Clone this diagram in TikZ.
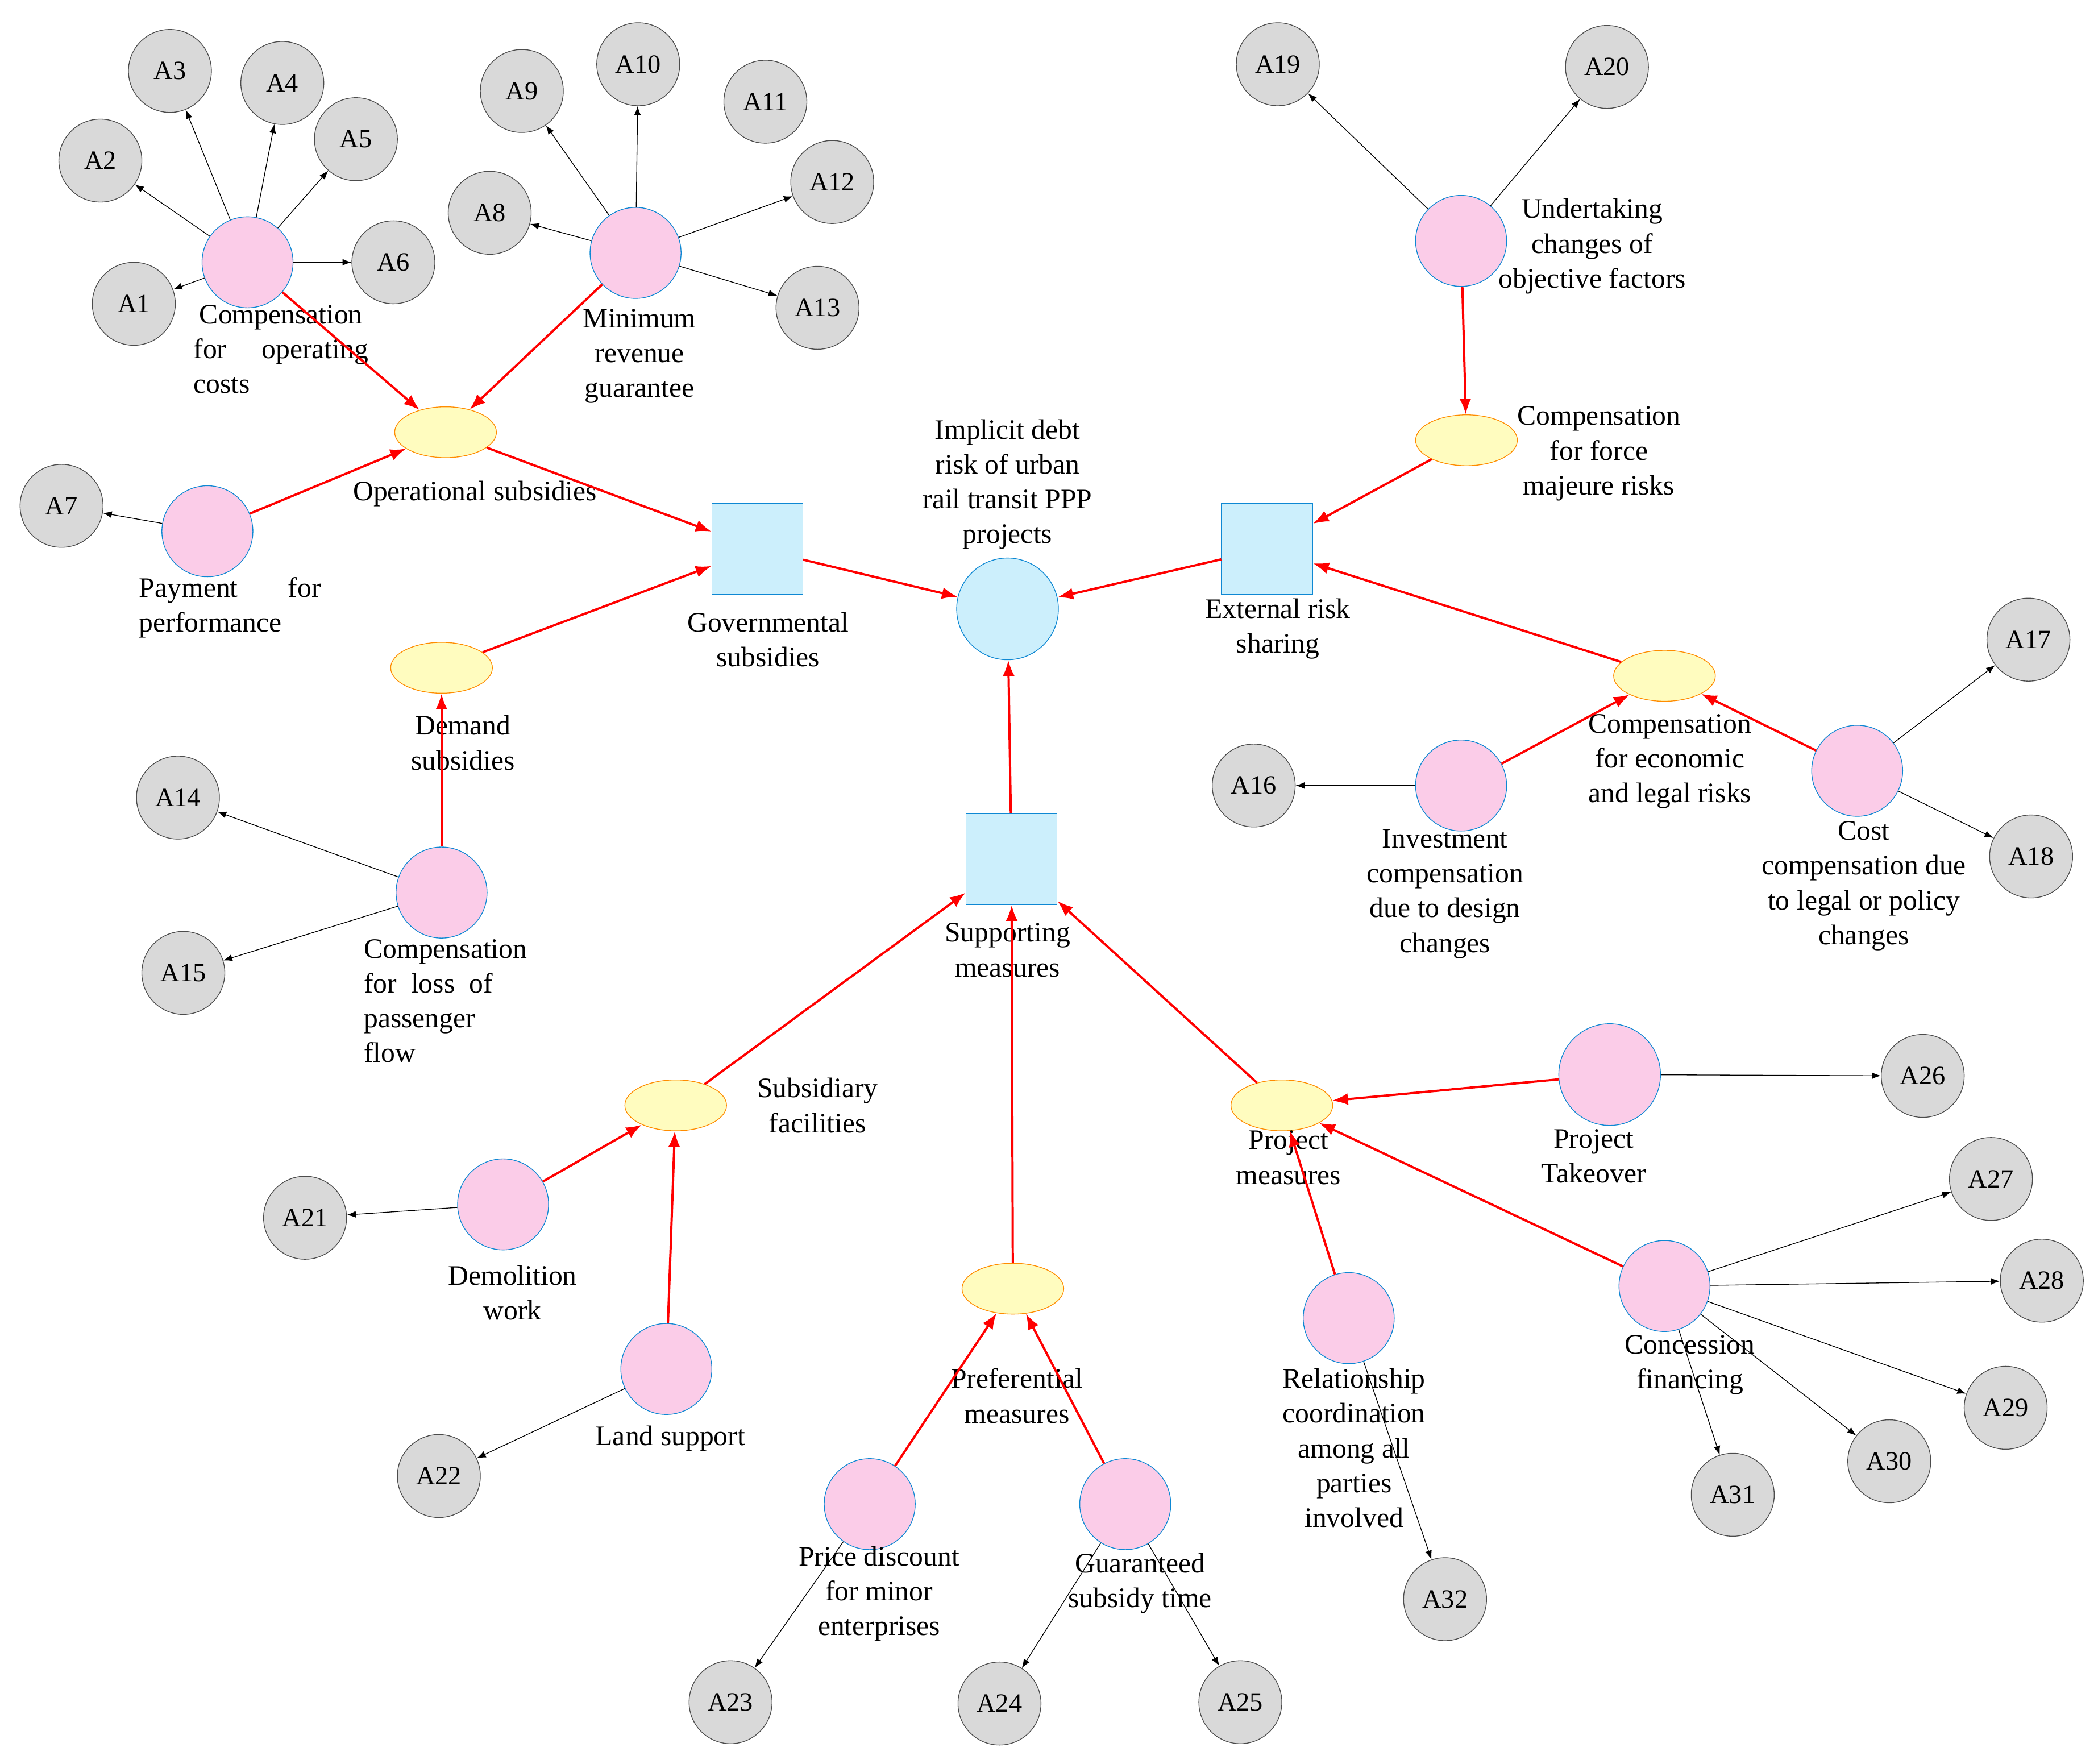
\documentclass[tikz,border=0pt]{standalone}
\usepackage{fontspec}
\setmainfont{Liberation Serif}
\usetikzlibrary{arrows.meta, positioning, shapes.geometric}

\begin{document}
\begin{tikzpicture}[x=0.025cm, y=-0.025cm,
  every node/.style={font=\fontsize{15}{18.5}\selectfont},
  root/.style={draw=cyan!70!blue, fill=cyan!20, circle, minimum size=1.9cm},
  group/.style={draw=cyan!70!blue, fill=cyan!20, minimum size=1.7cm},
  sub/.style={draw=orange!90!yellow, fill=yellow!25, ellipse, minimum width=1.9cm, minimum height=0.95cm},
  item/.style={draw=cyan!70!blue, fill=magenta!20, circle, minimum size=1.7cm},
  leaf/.style={draw=black!70, fill=black!15, circle, minimum size=1.55cm, font=\fontsize{14}{16}\selectfont},
  lbl/.style={align=center},
  red arrow/.style={-Latex, red, line width=1.2pt},
  leaf arrow/.style={-Latex, black, thin}
]
\useasboundingbox (0,0) rectangle (1568,1318);

% ROOT AND GROUPS
\node[root] (risk) at (753,455) {};
\node[lbl] at (753,362) {Implicit debt\\risk of urban\\rail transit PPP\\projects};
\node[group] (gov) at (566,410) {};
\node[lbl] at (574,478) {Governmental\\subsidies};
\node[group] (ext) at (947,410) {};
\node[lbl] at (955,470) {External risk\\sharing};
\node[group] (sup) at (756,642) {};
\node[lbl] at (753,710) {Supporting\\measures};

% SUBGROUPS
\node[sub] (oper) at (333,323) {};
\node[lbl] at (355,369) {Operational subsidies};
\node[sub] (dem) at (330,499) {};
\node[lbl] at (346,555) {Demand\\subsidies};
\node[sub] (force) at (1096,329) {};
\node[lbl] at (1195,339) {Compensation\\for force\\majeure risks};
\node[sub] (econ) at (1244,505) {};
\node[lbl] at (1248,569) {Compensation\\for economic\\and legal risks};
\node[sub] (facil) at (505,826) {};
\node[lbl] at (611,826) {Subsidiary\\facilities};
\node[sub] (pref) at (757,963) {};
\node[lbl] at (760,1043) {Preferential\\measures};
\node[sub] (proj) at (958,826) {};
\node[lbl] at (963,865) {Project\\measures};

% ITEMS
\node[item] (opcost) at (185,196) {};
\node[lbl] at (210,261) {Compensation\\for \quad operating\\costs\hfill\null};
\node[item] (minrev) at (475,189) {};
\node[lbl] at (478,266) {Minimum\\revenue\\guarantee};
\node[item] (pay) at (155,397) {};
\node[lbl] at (172,454) {Payment \quad\; for\\performance\hfill\null};
\node[item] (undert) at (1092,180) {};
\node[lbl] at (1190,184) {Undertaking\\changes of\\objective factors};
\node[item] (loss) at (330,667) {};
\node[lbl, align=left] at (333,748) {Compensation\\for \ loss \ of\\passenger\\flow};
\node[item] (invest) at (1092,587) {};
\node[lbl] at (1080,668) {Investment\\compensation\\due to design\\changes};
\node[item] (costc) at (1388,576) {};
\node[lbl] at (1393,662) {Cost\\compensation due\\to legal or policy\\changes};
\node[item] (demol) at (376,900) {};
\node[lbl] at (383,966) {Demolition\\work};
\node[item] (land) at (498,1023) {};
\node[lbl] at (501,1075) {Land support};
\node[item] (price) at (650,1124) {};
\node[lbl] at (657,1191) {Price discount\\for minor\\enterprises};
\node[item] (guar) at (841,1124) {};
\node[lbl] at (852,1183) {Guaranteed\\subsidy time};
\node[item] (relat) at (1008,985) {};
\node[lbl] at (1012,1082) {Relationship\\coordination\\among all\\parties\\involved};
\node[item, minimum size=1.9cm] (takeov) at (1203,803) {};
\node[lbl] at (1191,864) {Project\\Takeover};
\node[item] (conc) at (1244,961) {};
\node[lbl] at (1263,1020) {Concession\\financing};

% LEAVES
\foreach \n/\x/\y in {1/100/227, 2/75/120, 3/127/53, 4/211/62, 5/266/104, 6/294/196,
  7/46/378, 8/366/159, 9/390/68, 10/477/48, 11/572/76, 12/622/136, 13/611/230,
  14/133/596, 15/137/727, 16/937/587, 17/1516/478, 18/1518/640, 19/955/48,
  20/1201/50, 21/228/910, 22/328/1103, 23/546/1272, 24/747/1273, 25/927/1272,
  26/1437/804, 27/1488/881, 28/1526/957, 29/1499/1052, 30/1412/1092,
  31/1295/1117, 32/1080/1195}
  \node[leaf] (a\n) at (\x,\y) {A\n};

% RED CONNECTIONS
\foreach \s/\t in {opcost/oper, minrev/oper, pay/oper, oper/gov, dem/gov, loss/dem,
  gov/risk, ext/risk, sup/risk, undert/force, force/ext, econ/ext, invest/econ,
  costc/econ, facil/sup, pref/sup, proj/sup, demol/facil, land/facil, price/pref,
  guar/pref, takeov/proj, relat/proj, conc/proj}
  \draw[red arrow] (\s) -- (\t);

% LEAF CONNECTIONS
\foreach \s/\t in {opcost/1, opcost/2, opcost/3, opcost/4, opcost/5, opcost/6, pay/7,
  minrev/8, minrev/9, minrev/10, minrev/12, minrev/13, loss/14, loss/15, invest/16,
  costc/17, costc/18, undert/19, undert/20, demol/21, land/22, price/23, guar/24,
  guar/25, takeov/26, conc/27, conc/28, conc/29, conc/30, conc/31, relat/32}
  \draw[leaf arrow] (\s) -- (a\t);

\end{tikzpicture}
\end{document}
